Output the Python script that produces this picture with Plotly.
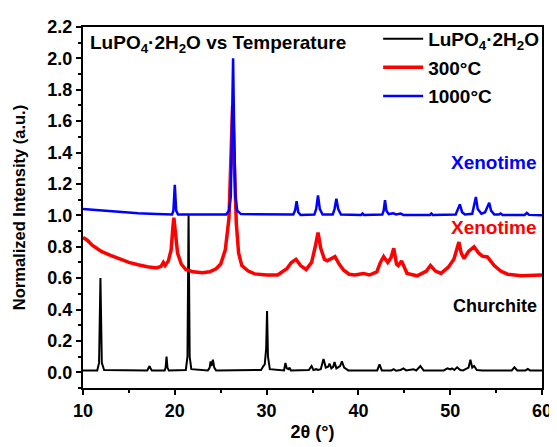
import plotly.graph_objects as go

# ---- data ----
black_x = [10, 11.55, 11.75, 11.9, 12.05, 12.3, 17.0, 17.15, 17.25, 17.35, 17.5, 18.9, 19.0, 19.1, 19.2, 19.35,
           21.2, 21.38, 21.5, 21.62, 21.8, 23.6, 23.8, 23.9, 24.0, 24.15, 24.3, 24.5,
           29.4, 29.65, 29.8, 29.95, 30.05, 30.15, 30.35, 31.9, 32.05, 32.2, 32.4, 32.5, 32.65,
           34.6, 34.9, 35.1, 35.4, 35.6, 35.9, 36.2, 36.45, 36.7, 36.85, 37.05, 37.25, 37.4, 37.6, 38.0, 38.2, 38.45, 38.9,
           42.05, 42.3, 42.55, 43.6, 43.85, 44.1, 44.6, 44.9, 45.2, 45.6, 46.0, 46.3, 46.75, 47.1,
           49.3, 49.7, 50.0, 50.2, 50.45, 50.75, 51.1, 51.4, 52.0, 52.2, 52.4, 52.6, 52.9, 53.5,
           56.7, 57.0, 57.3, 58.2, 58.45, 58.7, 60]
black_y = [0.012, 0.012, 0.06, 0.60, 0.06, 0.015, 0.012, 0.025, 0.04, 0.025, 0.012, 0.012, 0.03, 0.10, 0.03, 0.012,
           0.015, 0.10, 1.0, 0.10, 0.02, 0.012, 0.03, 0.07, 0.04, 0.08, 0.03, 0.012,
           0.015, 0.04, 0.05, 0.15, 0.39, 0.10, 0.02, 0.012, 0.06, 0.025, 0.02, 0.03, 0.012,
           0.015, 0.04, 0.015, 0.02, 0.015, 0.02, 0.085, 0.03, 0.035, 0.055, 0.025, 0.035, 0.065, 0.025, 0.04, 0.07, 0.03, 0.012,
           0.012, 0.05, 0.012, 0.012, 0.02, 0.01, 0.015, 0.025, 0.012, 0.015, 0.02, 0.012, 0.04, 0.012,
           0.012, 0.025, 0.018, 0.025, 0.015, 0.032, 0.015, 0.012, 0.03, 0.08, 0.03, 0.04, 0.015, 0.012,
           0.012, 0.032, 0.012, 0.012, 0.022, 0.012, 0.012]

red_x = [10, 10.5, 11, 12, 13, 14, 15, 16, 17, 18, 18.5, 18.75, 18.95, 19.3, 19.6, 19.8, 19.9, 20.05, 20.3, 20.7,
         21.2, 22, 23, 23.8, 24.5, 25.0, 25.5, 25.9, 26.1, 26.3, 26.5, 26.7, 26.95, 27.3, 28.0, 28.7, 30, 31.2,
         32.2, 32.7, 33.2, 33.7, 34.3, 34.9, 35.3, 35.6, 35.9, 36.3, 36.6, 37.0, 37.45, 37.9, 38.4, 39.0, 39.6,
         40.55, 41.2, 42.0, 42.4, 42.75, 43.2, 43.55, 43.85, 44.15, 44.35, 44.7, 45.3, 46.4, 47.4, 47.85, 48.4,
         49.0, 49.8, 50.4, 50.8, 50.95, 51.2, 51.5, 52.0, 52.6, 53.1, 53.5, 54.05, 54.8, 55.5, 56.25, 57.7, 59, 60]
red_y = [0.86, 0.84, 0.81, 0.77, 0.745, 0.72, 0.70, 0.685, 0.672, 0.665, 0.675, 0.70, 0.68, 0.71, 0.78, 0.93, 0.985, 0.90, 0.76, 0.69,
         0.655, 0.64, 0.635, 0.64, 0.66, 0.69, 0.78, 0.98, 1.3, 1.70, 1.3, 0.95, 0.76, 0.68, 0.645, 0.627, 0.62, 0.62,
         0.66, 0.70, 0.72, 0.68, 0.655, 0.70, 0.80, 0.89, 0.79, 0.72, 0.71, 0.725, 0.737, 0.69, 0.65, 0.625, 0.62,
         0.63, 0.62, 0.64, 0.70, 0.737, 0.70, 0.73, 0.79, 0.69, 0.68, 0.71, 0.63, 0.615, 0.645, 0.68, 0.645,
         0.63, 0.67, 0.72, 0.81, 0.83, 0.76, 0.725, 0.77, 0.80, 0.76, 0.74, 0.735, 0.68, 0.645, 0.625, 0.615, 0.618, 0.62]

blue_x = [10, 12, 14, 16, 18, 19.7, 19.85, 20.0, 20.15, 20.35, 25.6, 25.9, 26.1, 26.25, 26.35, 26.45, 26.6, 26.8, 27.2,
          32.9, 33.1, 33.27, 33.45, 33.7, 35.2, 35.4, 35.6, 35.8, 36.1, 37.2, 37.4, 37.6, 37.8, 38.1,
          40.3, 40.45, 40.6, 42.6, 42.75, 42.9, 43.05, 43.3, 43.8, 44.1, 44.6, 44.9, 47.8, 47.95, 48.1,
          50.6, 50.85, 51.05, 51.3, 51.6, 52.4, 52.6, 52.8, 53.0, 53.4, 53.8, 54.05, 54.25, 54.45, 54.8,
          55.3, 55.5, 55.7, 58.1, 58.35, 58.6, 60]
blue_y = [1.04, 1.03, 1.02, 1.013, 1.008, 1.005, 1.03, 1.195, 1.03, 1.005, 1.005, 1.03, 1.12, 1.6, 2.0, 1.6, 1.12, 1.03, 1.008,
          1.005, 1.03, 1.09, 1.02, 1.003, 1.005, 1.04, 1.127, 1.04, 1.005, 1.005, 1.04, 1.106, 1.04, 1.005,
          1.003, 1.012, 1.003, 1.005, 1.03, 1.096, 1.03, 1.008, 1.013, 1.006, 1.012, 1.003, 1.003, 1.012, 1.003,
          1.005, 1.04, 1.07, 1.02, 1.005, 1.01, 1.06, 1.117, 1.04, 1.01, 1.02, 1.06, 1.08, 1.03, 1.005,
          1.005, 1.012, 1.003, 1.003, 1.015, 1.003, 1.0]

series_names = ["LuPO<sub>4</sub>·2H<sub>2</sub>O", "300°C", "1000°C"]
phase_labels = ["Xenotime", "Xenotime", "Churchite"]
title_text = "LuPO<sub>4</sub>·2H<sub>2</sub>O vs Temperature"

FONT = "'Liberation Sans', Arial, sans-serif"

fig = go.Figure()
fig.add_trace(go.Scatter(x=black_x, y=black_y, mode="lines", name=series_names[0], legendgroup="a",
                         line=dict(color="black", width=2)))
fig.add_trace(go.Scatter(x=red_x, y=red_y, mode="lines", name=series_names[1], legendgroup="b",
                         line=dict(color="#ff0000", width=3.5)))
fig.add_trace(go.Scatter(x=blue_x, y=blue_y, mode="lines", name=series_names[2], legendgroup="c",
                         line=dict(color="#0000ff", width=2.5)))

fig.add_annotation(x=54.75, y=1.335, xref="x", yref="y", text=phase_labels[0], showarrow=False,
                   font=dict(family=FONT, size=19, color="#0000ff", weight="bold"))
fig.add_annotation(x=54.75, y=0.925, xref="x", yref="y", text=phase_labels[1], showarrow=False,
                   font=dict(family=FONT, size=19, color="#ff0000", weight="bold"))
fig.add_annotation(x=54.9, y=0.425, xref="x", yref="y", text=phase_labels[2], showarrow=False,
                   font=dict(family=FONT, size=18, color="black", weight="bold"))
fig.add_annotation(x=0.01, y=0.993, xref="paper", yref="paper", xanchor="left", yanchor="top",
                   text=title_text, showarrow=False,
                   font=dict(family=FONT, size=19, color="black", weight="bold"))

axis_common = dict(showline=True, linecolor="black", linewidth=2, mirror=True,
                   ticks="outside", ticklen=5, tickwidth=1.5, tickcolor="black",
                   showgrid=False, zeroline=False, automargin=False,
                   tickfont=dict(family=FONT, size=18, color="black", weight="bold"))

# page body has an 8px margin: figure sized to the visible area
fig.update_layout(
    width=549, height=439,
    margin=dict(l=75, r=15, t=12, b=59),
    paper_bgcolor="white", plot_bgcolor="white",
    xaxis=dict(range=[10, 60], dtick=10, tick0=10,
               minor=dict(dtick=5, ticks="outside", ticklen=3, tickwidth=1.5, tickcolor="black"),
               title=dict(text="2θ (°)", standoff=6,
                          font=dict(family=FONT, size=18, color="black", weight="bold")),
               **axis_common),
    yaxis=dict(range=[-0.1, 2.2], dtick=0.2, tick0=0, tickformat=".1f",
               minor=dict(dtick=0.1, ticks="outside", ticklen=3, tickwidth=1.5, tickcolor="black"),
               title=dict(text="Normalized Intensity (a.u.)", standoff=18,
                          font=dict(family=FONT, size=16.5, color="black", weight="bold")),
               **axis_common),
    legend=dict(x=0.643, y=1.02, xanchor="left", yanchor="top", bgcolor="rgba(0,0,0,0)",
                font=dict(family=FONT, size=19, color="black", weight="bold"),
                tracegroupgap=1, itemwidth=40),
    showlegend=True,
)

fig.write_html("out.html")
